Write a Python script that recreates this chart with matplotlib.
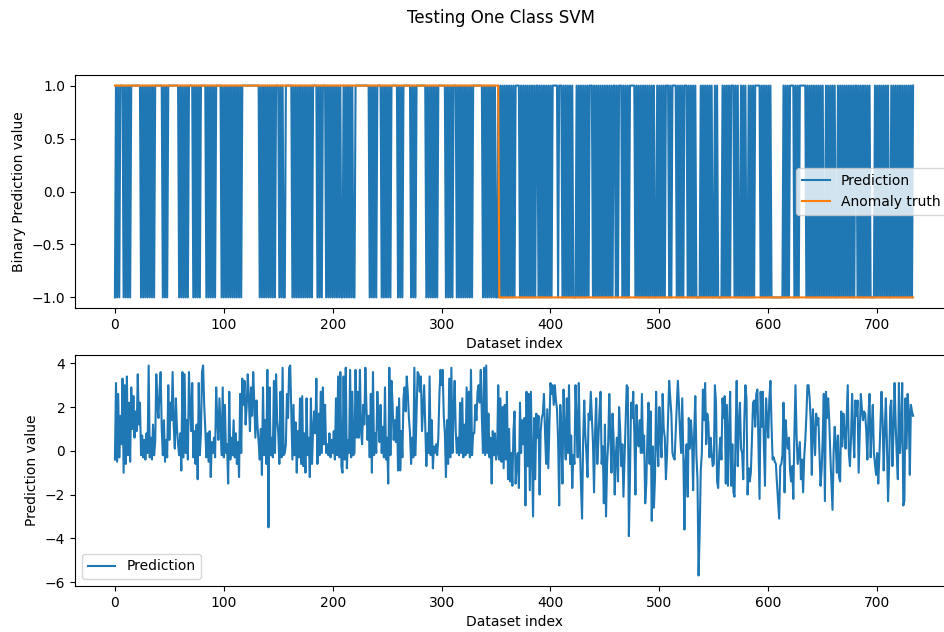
import numpy as np
import matplotlib
matplotlib.use("Agg")
import matplotlib.pyplot as plt

# decision scores of the one class SVM on the test set (one per sample)
decision_scores = [
    -0.4, 3.1, -0.5, 2.6, -0.3, 1.6, 0.3, 3.3, -1.0, 3.0,
    -0.6, 3.4, -0.2, 2.2, -0.5, 2.9, 1.0, 2.5, 0.6, 1.8,
    0.9, 3.5, 1.2, 2.2, -0.2, 0.7, -0.3, 0.5, -0.4, 0.8,
    -0.1, 3.9, -0.3, 0.6, -0.4, 1.2, -0.2, 0.4, 3.5, 2.1,
    1.5, 2.8, 3.6, 1.0, -0.2, 1.4, -0.5, 0.5, -0.3, 3.0,
    0.5, 2.2, 1.4, 3.6, 1.2, 0.1, 2.4, 1.0, 0.3, -0.2,
    0.8, -0.9, 3.6, -0.3, 3.5, -0.1, 1.4, -0.4, 3.6, 2.1,
    0.9, 3.1, -0.3, 0.9, -0.6, 1.2, -1.3, 3.1, -0.2, 0.8,
    3.6, 3.9, 2.1, 1.0, -0.3, 0.8, -0.5, 0.9, -1.2, 0.4,
    -0.1, 0.6, -0.3, 2.9, 1.4, 0.5, 2.4, 1.1, -0.2, 2.9,
    -0.3, 2.1, -0.1, 0.3, -1.5, 2.7, -0.4, 0.6, -0.2, 1.4,
    -0.3, 0.8, -0.6, 0.4, -1.2, 2.6, -0.1, 3.3, 2.1, 3.2,
    1.2, 2.0, 3.5, 2.4, 0.9, 2.9, 1.6, 3.6, 2.2, 0.6,
    2.3, 1.1, 0.4, -0.4, 1.0, -1.1, 2.9, -0.2, 1.4, -0.6,
    3.7, -3.5, 2.9, -0.2, 0.6, -0.3, 3.2, -0.1, 3.5, 1.4,
    0.8, -0.6, 2.7, -0.3, 3.8, -0.2, -0.1, 0.3, 2.6, 1.5,
    3.8, 3.9, 1.8, -0.4, 2.1, -0.2, 1.3, -1.0, 0.9, -0.3,
    2.4, -0.6, 2.5, -0.7, 0.8, -1.0, 2.4, -0.2, 0.6, -1.2,
    2.4, -0.6, 1.0, 1.8, 0.8, 3.3, -0.6, 1.7, -0.2, 2.7,
    -0.1, 2.9, 0.3, 2.1, -0.1, 0.3, -0.2, 0.8, -0.3, 0.5,
    -0.1, 0.9, -0.4, 2.4, -0.2, 3.4, -0.3, 3.6, -0.7, -1.0,
    3.4, -0.4, 3.8, -0.8, 0.5, -0.1, 3.7, -0.3, 2.7, -0.2,
    -0.1, 3.7, 0.6, 2.7, 0.6, 3.7, 0.9, 0.3, 2.1, 1.2,
    3.8, 2.0, 0.5, 1.6, -0.3, 2.6, -1.0, 3.6, -0.2, 0.8,
    -0.1, 2.7, 1.3, 0.4, 2.1, -0.1, 1.1, -0.3, 2.9, -0.4,
    0.6, -1.5, 3.8, -0.2, 3.2, 2.1, 0.5, 1.4, 0.4, 2.0,
    -0.9, 2.4, -0.9, 0.9, -0.3, 2.4, 2.9, 1.8, 3.4, 2.6,
    1.5, 0.8, -0.6, 0.6, -0.3, 3.8, -0.2, 1.7, 3.6, 3.5,
    2.7, 3.4, 0.9, 2.0, 3.0, 1.2, -0.7, 0.8, -0.1, 3.4,
    -0.2, 1.4, -0.8, 0.2, -0.1, 0.3, -0.2, 0.6, 2.6, 3.7,
    3.0, 3.7, 1.6, 0.8, -1.2, 1.4, -0.6, 3.3, -0.3, 3.8,
    -0.1, 1.8, 3.2, 0.9, -0.1, 0.6, -0.2, 2.2, -0.1, 2.4,
    -0.3, 1.2, -0.2, 2.9, -0.1, 2.7, -0.3, 3.7, -0.2, 0.8,
    0.8, 2.1, 1.4, 2.7, 3.0, 2.2, 3.7, 1.5, -0.1, 3.8,
    -0.2, 3.9, -0.1, 1.7, -0.3, 0.6, -1.5, 0.9, -0.2, 0.8,
    -0.4, -0.1, 3.0, -0.4, 2.4, -0.5, 2.0, -0.8, 2.1, -0.4,
    2.7, -1.3, 1.0, -1.4, -0.1, -1.6, 0.9, 1.8, -1.5, -0.6,
    -0.1, -1.7, 2.2, -0.1, 1.4, 0.3, 1.5, -2.5, 2.7, -0.7,
    2.6, -1.8, 2.7, -0.3, -3.0, 1.5, -1.3, 1.7, 0.6, 1.6,
    -2.0, 0.9, 1.5, 1.7, 2.6, 0.8, -0.6, 1.9, -0.8, 1.2,
    3.1, 2.6, 3.0, 2.1, 3.0, 2.3, 1.9, 0.5, -2.5, 2.1,
    0.9, -1.5, 2.8, 0.8, -0.4, 2.4, -0.1, 3.0, -0.6, 0.7,
    -1.7, -0.2, -0.6, 3.0, 1.2, -0.3, 3.1, 0.4, -1.6, -3.1,
    0.5, 2.3, 0.7, -0.1, -1.2, 1.7, 1.4, 2.7, 1.6, 0.4,
    -1.9, 0.9, 2.4, -0.6, 0.5, 1.8, 2.7, -0.6, 0.2, -2.4,
    1.2, -3.0, -0.6, 0.4, 2.6, 0.7, -1.0, 1.7, 0.5, -2.0,
    -0.2, 0.6, -1.4, 2.0, 1.0, -0.7, 0.3, -2.1, -0.4, 1.4,
    3.0, 2.9, -3.9, -1.2, 2.2, 1.5, 2.7, 0.8, -2.0, 2.1,
    0.6, 0.2, 1.4, -0.1, 2.6, -0.1, 0.7, -2.4, -1.5, 0.6,
    2.2, -0.6, 1.8, -3.2, 0.2, -2.6, -1.2, 2.7, 0.4, -0.7,
    2.0, 0.6, -0.3, 2.6, 1.0, 0.6, -1.3, -0.2, 1.5, 3.2,
    2.4, 1.7, -0.1, -0.3, -0.4, 0.9, 2.1, 3.2, 2.1, 0.8,
    -0.1, 2.4, -0.2, -3.6, -0.5, 0.3, -2.1, 1.5, 0.1, 1.4,
    0.5, -1.8, 0.9, 2.5, -0.2, -1.3, -5.7, -3.8, -0.9, -0.1,
    2.8, 1.4, 3.1, 0.3, 1.7, 1.3, -0.3, 0.6, -0.1, -0.7,
    -0.6, 3.0, 2.2, -1.4, -1.7, -0.1, 0.6, -0.4, 2.4, 1.5,
    2.5, -1.5, 2.1, -1.6, 0.9, 2.7, -1.6, 0.3, -1.9, -2.1,
    0.7, 3.2, -0.7, 1.2, 2.2, 0.1, -0.1, -1.3, 1.4, 3.0,
    2.4, -2.0, -0.8, -1.4, -1.0, 0.5, 2.2, 2.3, 1.1, 2.6,
    2.8, 0.3, -2.2, 2.7, 1.1, 2.7, 0.2, -1.6, 2.4, 1.4,
    0.6, 2.4, 3.2, 1.2, -0.4, -0.3, -0.5, -0.6, -1.5, -2.3,
    -3.1, -0.7, -0.6, -0.2, 2.2, -1.9, 1.4, 0.5, 0.1, 0.6,
    -0.9, -1.4, -0.7, -2.2, 0.8, 3.0, 0.7, -0.6, -0.1, 0.4,
    -1.3, -0.4, -1.9, -0.3, 0.5, 1.6, 3.0, 3.0, 2.4, 1.4,
    -1.1, 1.9, 0.8, -0.2, 1.7, 1.2, 1.5, -0.1, -1.6, -0.9,
    0.6, 2.6, -2.3, 2.7, 1.5, 2.4, 1.4, -0.2, -1.4, -2.7,
    -0.1, 1.1, 0.3, -1.0, 0.7, -1.2, -1.4, 1.8, 0.2, 1.7,
    0.8, 0.1, 1.6, 3.0, -0.1, -0.7, 0.6, 2.6, 0.8, -0.3,
    2.3, 1.6, 2.3, -1.0, 0.8, 2.6, 1.9, 1.4, 1.8, 1.7,
    0.9, -0.4, 1.6, 2.6, -0.3, 1.1, 2.1, -0.1, -0.6, -1.1,
    -0.1, -1.5, -0.3, 1.2, 2.7, 1.4, -0.9, 0.9, 2.4, 0.3,
    -2.3, -0.7, 2.0, 2.3, -0.7, 0.8, 3.1, 1.2, -0.2, -1.3,
    3.1, -0.1, 0.9, 3.1, -2.5, -2.3, 2.4, 0.1, 2.6, 1.8,
    -1.1, 2.1, 1.8, 1.6,
]

# predicted labels, "+" = inlier (1), "-" = outlier (-1)
labels_normal_part = (
    "-+-+-+++-+" "-+-+-+++++" "++++-+-+-+" "-+-+-+-+++" "++++-+-+-+"
    "+++++++++-" "+-+-+-+-++" "++-+-+-+-+" "++++-+-+-+" "-+-+++++-+"
    "-+-+-+-+-+" "-+-+-+-+++" "++++++++++" "+++-+-+-+-" "+-+-+-+-++"
    "+-+-+--+++" "+++-+-+-+-" "+-+-+-+-+-" "+-++++-+-+" "-+++-+-+-+"
    "-+-+-+-+--" "+-+-+-+-+-" "-+++++++++" "++++-+-+-+" "-++++-+-+-"
    "+-+-++++++" "-+-+-+++++" "++-+-+-+++" "++++++-+-+" "-+-+-+-+++"
    "++++-+-+-+" "-+++-+-+-+" "-+-+-+-+-+" "++++++++-+" "-+-+-+-+-+"
    "--+"
)
labels_anomaly_part = (
    "-+-+-+-+-+-+-+-" "++++" "-+-+-+-+-+-+-+-" "++" "-+-+-+-+-+-+-"
    "+++++" "-" "+++" "-+-+-+-+-+" "---" "+-+-+-+-+-+-" "+++"
    "-+-+-+-+-+-+-+-+-+-" "++" "-+-" "+++" "-+-+-+-" "+++++"
    "-+-+-+-+-+-+-+-+-+" "--" "+-+-+-+-" "+++" "-+-" "++++" "-+-+-+-"
    "++" "+-+-+-+-+" "----" "+-+-+-+-+-+" "--" "+-+" "----" "+-+-+-+-"
    "+++" "-+-+" "--" "+-+-+" "--" "+-+-+-" "++++" "+-+-+-+-+-+"
    "-----------" "+-+-+-" "++++" "-+-+-" "++++++" "-+-+-+-+-+-+-+-+"
    "--" "+-+-+-+-+" "--" "+-+-+-+-+-+-+-+-" "++" "-+-+-+-+-+-+"
    "----" "+-+-+-+-+-+-+" "--" "+-+-+-+-+-+-+-+-+-+-+"
)

# ground truth: normal samples first, then the anomalous ones
n_normal = 353
n_anomaly = 381

scores = np.array(decision_scores)
predicted_labels = labels_normal_part + labels_anomaly_part
binary_pred = np.array([1 if c == "+" else -1 for c in predicted_labels])
truth = np.concatenate([np.ones(n_normal), -np.ones(n_anomaly)])

fig = plt.figure(figsize=(9.44, 6.32), dpi=100)
fig.suptitle("Testing One Class SVM", x=0.531, y=0.985, fontsize=12)

ax1 = fig.add_axes([75 / 944, 1 - 308 / 632, 878 / 944, 233 / 632])
ax1.plot(np.arange(len(binary_pred)), binary_pred, label="Prediction")
ax1.plot(np.arange(len(truth)), truth, label="Anomaly truth")
ax1.set_xlabel("Dataset index")
ax1.set_ylabel("Binary Prediction value")
ax1.legend(loc="center right")

ax2 = fig.add_axes([75 / 944, 1 - 586 / 632, 878 / 944, 231 / 632])
ax2.plot(np.arange(len(scores)), scores, label="Prediction")
ax2.set_xlabel("Dataset index")
ax2.set_ylabel("Prediction value")
ax2.legend(loc="lower left")

fig.savefig("out.png", dpi=100)
